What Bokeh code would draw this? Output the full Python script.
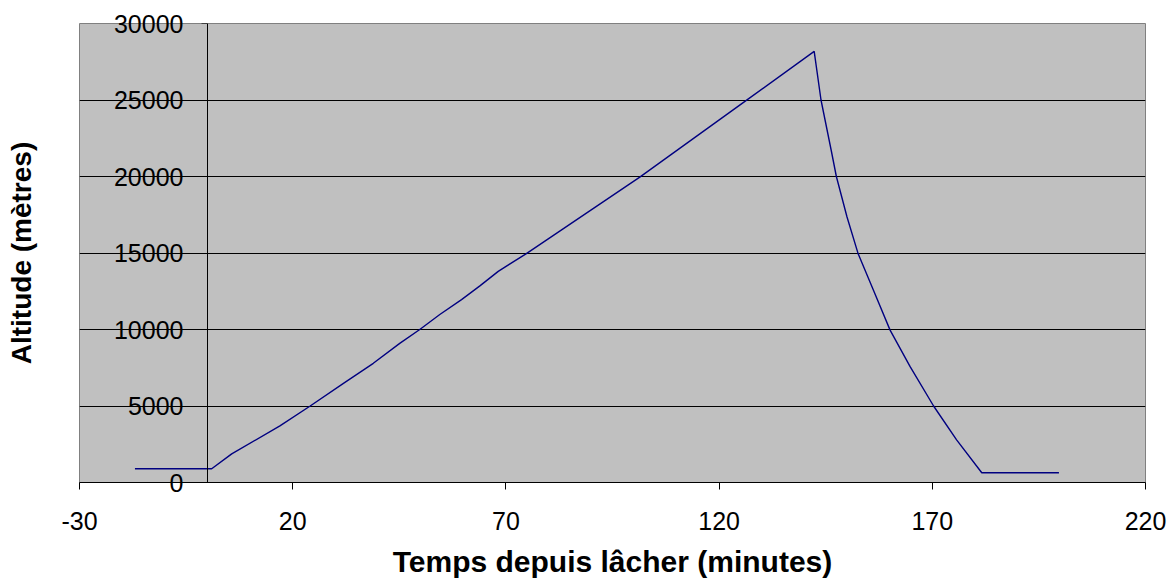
from bokeh.plotting import figure
from bokeh.models import Range1d, LinearAxis, FixedTicker
from bokeh.embed import file_html
from bokeh.resources import INLINE

# Data
time_min = [-17, 1, 5.7, 17, 24.1, 31.9, 38.9, 45.1, 49.8, 54.5, 59.6, 63.9, 68.2,
            74.8, 101.4, 126.3, 142.3, 143.9, 146.3, 147.5, 150.0, 152.6, 156.2,
            160.1, 164.8, 170.3, 175.7, 181.6, 199.7]
altitude_m = [900, 900, 1870, 3700, 5000, 6480, 7790, 9090, 10000, 10980, 11950, 12850,
              13800, 14960, 19960, 24960, 28180, 25000, 21700, 20000, 17350, 14960,
              12570, 9960, 7570, 5000, 2790, 640, 640]
x_ticks = [-30, 20, 70, 120, 170, 220]
x_tick_labels = ["-30", "20", "70", "120", "170", "220"]
y_ticks = [0, 5000, 10000, 15000, 20000, 25000, 30000]
y_tick_labels = ["0", "5000", "10000", "15000", "20000", "25000", "30000"]

FONT = "Liberation Sans"

p = figure(width=1168, height=580, output_backend="svg", toolbar_location=None,
           x_range=Range1d(-30, 220), y_range=Range1d(0, 30000),
           min_border_left=79, min_border_right=23, min_border_top=23,
           min_border_bottom=97, y_axis_location=None)

p.border_fill_color = "white"
p.background_fill_color = "#C0C0C0"
p.outline_line_color = "#808080"
p.outline_line_width = 1

# x axis
xa = p.xaxis[0]
xa.ticker = FixedTicker(ticks=x_ticks)
xa.major_label_overrides = {t: s for t, s in zip(x_ticks, x_tick_labels)}
xa.minor_tick_line_color = None
xa.major_tick_in = 0
xa.major_tick_out = 7
xa.axis_line_color = "black"
xa.major_tick_line_color = "black"
xa.major_label_text_font = FONT
xa.major_label_text_font_size = "25px"
xa.major_label_text_color = "black"
xa.major_label_standoff = 22
xa.axis_label = "Temps depuis lâcher (minutes)"
xa.axis_label_text_font = FONT
xa.axis_label_text_font_size = "30px"
xa.axis_label_text_font_style = "bold"
xa.axis_label_text_color = "black"
xa.axis_label_standoff = 12

# y axis line and ticks drawn at x = 0 inside the plot
ya = LinearAxis(ticker=FixedTicker(ticks=y_ticks), fixed_location=0)
ya.major_label_overrides = {t: "" for t in y_ticks}
ya.minor_tick_line_color = None
ya.major_tick_in = 0
ya.major_tick_out = 6
ya.axis_line_color = "black"
ya.major_tick_line_color = "black"
ya.major_label_standoff = 0
p.add_layout(ya, "left")

# left axis carrying the tick labels (shifted right, next to x = 0) and the title
yl = LinearAxis(ticker=FixedTicker(ticks=y_ticks))
yl.major_label_overrides = {t: s for t, s in zip(y_ticks, y_tick_labels)}
yl.axis_line_color = None
yl.major_tick_line_color = None
yl.minor_tick_line_color = None
yl.major_tick_in = 0
yl.major_tick_out = 0
yl.major_label_standoff = -104
yl.major_label_text_font = FONT
yl.major_label_text_font_size = "25px"
yl.major_label_text_color = "black"
yl.axis_label = "Altitude (mètres)"
yl.axis_label_text_font = FONT
yl.axis_label_text_font_size = "28px"
yl.axis_label_text_font_style = "bold"
yl.axis_label_text_color = "black"
yl.axis_label_standoff = 74
p.add_layout(yl, "left")

# grids
p.xgrid.visible = False
p.ygrid.ticker = FixedTicker(ticks=y_ticks)
p.ygrid.grid_line_color = "black"
p.ygrid.grid_line_width = 1

p.line(time_min, altitude_m, line_color="#000080", line_width=1.4)

open("out.html", "w").write(file_html(p, INLINE))
